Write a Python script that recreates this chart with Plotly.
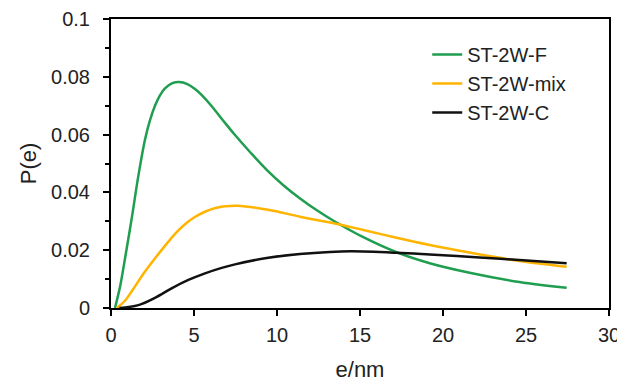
import plotly.graph_objects as go

# ST-2W-F (green)
f_x = [0.24, 0.55, 0.84, 1.25, 1.65, 2.05, 2.35, 2.65, 2.95, 3.25, 3.7, 4.1, 4.6, 5.06, 5.5, 6.07, 6.75, 7.42, 8.4, 9.38,
       10.4, 11.39, 12.4, 13.4, 15.2, 17.2, 19.2, 21.6, 24.6, 27.45]
f_y = [0.0, 0.0075, 0.0170, 0.0311, 0.0458, 0.0583, 0.0650, 0.0700, 0.0736, 0.0760, 0.0778, 0.0782, 0.0775, 0.0758, 0.0735,
       0.0698, 0.0649, 0.0602, 0.0538, 0.0478, 0.0424, 0.0379, 0.0338, 0.0302, 0.0245, 0.0193, 0.0155, 0.0122, 0.0090, 0.0070]

# ST-2W-mix (orange/yellow)
m_x = [0.35, 0.84, 1.33, 2.05, 3.25, 4.0, 4.46, 5.0, 5.66, 6.3, 6.87, 7.6, 9.38, 11.39, 13.7, 15.2, 17.2, 19.2, 21.6, 24.6, 27.45]
m_y = [0.0, 0.0025, 0.0065, 0.0126, 0.0215, 0.0265, 0.0290, 0.0313, 0.0333, 0.0346, 0.0352, 0.0354, 0.0341, 0.0316, 0.029,
       0.027, 0.0243, 0.0218, 0.0192, 0.0163, 0.0143]

# ST-2W-C (black)
c_x = [0.5, 1.65, 2.65, 3.65, 4.66, 5.66, 6.67, 7.47, 9.38, 11.39, 13.19, 14.5, 17.2, 19.2, 22.2, 24.6, 27.45]
c_y = [0.0, 0.001, 0.0035, 0.0068, 0.0097, 0.012, 0.0139, 0.0151, 0.0173, 0.0187, 0.0194, 0.0196, 0.0191, 0.0185, 0.0175,
       0.0166, 0.0155]

series_names = ["ST-2W-F", "ST-2W-mix", "ST-2W-C"]
colors = ["#1f9e4f", "#ffb400", "#111111"]

x_ticks = [0, 5, 10, 15, 20, 25, 30]
y_ticks = [0, 0.02, 0.04, 0.06, 0.08, 0.1]
y_tick_text = ["0", "0.02", "0.04", "0.06", "0.08", "0.1"]

FONT = "Liberation Sans, Arial, sans-serif"

fig = go.Figure()
for xs, ys, name, col in zip([f_x, m_x, c_x], [f_y, m_y, c_y], series_names, colors):
    fig.add_trace(go.Scatter(x=xs, y=ys, mode="lines", name=name,
                             line=dict(color=col, width=2.5, shape="spline", smoothing=1.0)))

# page body has an 8px default margin, so the figure is sized to fit inside the window
fig.update_layout(
    width=617, height=377,
    margin=dict(l=103, r=16, t=11, b=77),
    paper_bgcolor="white", plot_bgcolor="white",
    font=dict(family=FONT, size=20, color="#222"),
    showlegend=True,
    legend=dict(x=0.635, y=0.945, xanchor="left", yanchor="top",
                font=dict(size=20, color="#222"), bgcolor="rgba(0,0,0,0)"),
)
fig.update_xaxes(
    range=[0, 30], tickvals=x_ticks, ticks="outside", ticklen=6, tickwidth=2,
    tickcolor="black", showline=True, linecolor="black", linewidth=2, mirror=True,
    showgrid=False, zeroline=False, automargin=False,
    title=dict(text="e/nm", font=dict(size=22), standoff=17),
    tickfont=dict(size=20), ticklabelstandoff=2,
)
fig.update_yaxes(
    range=[0, 0.1], tickvals=y_ticks, ticktext=y_tick_text, ticks="outside", ticklen=6, tickwidth=2,
    tickcolor="black", showline=True, linecolor="black", linewidth=2, mirror=True,
    showgrid=False, zeroline=False, automargin=False,
    minor=dict(dtick=0.01, ticks="outside", ticklen=4, tickwidth=2, tickcolor="black"),
    title=dict(text="P(e)", font=dict(size=22), standoff=8),
    tickfont=dict(size=20), ticklabelstandoff=9,
)

fig.write_html("out.html")
